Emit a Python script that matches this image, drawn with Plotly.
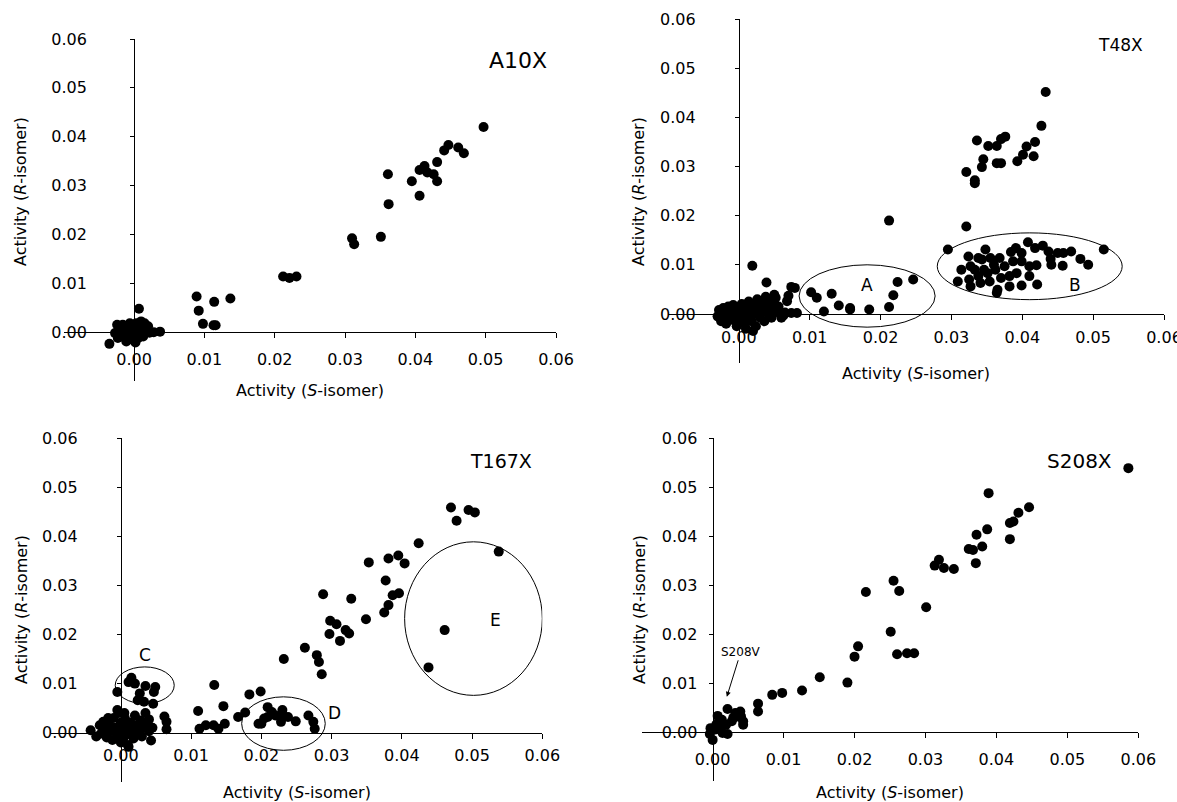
import plotly.graph_objects as go

W, H = 1177, 802

# ---------------- data ----------------
# Panel A10X
a10x_s = [0.0497, 0.0461, 0.0447, 0.0441, 0.0469, 0.0431, 0.0413, 0.0406, 0.0417, 0.0426,
          0.0431, 0.0395, 0.0406, 0.0361, 0.0362, 0.0310, 0.0313, 0.0351, 0.0212, 0.0221,
          0.0231, 0.0089, 0.0092, 0.0114, 0.0137, 0.0098, 0.0113, 0.0116, 0.0007, -0.0035,
          0.0028, 0.0037,
          -0.0024, -0.0016, -0.0006, 0.0003, 0.0010, 0.0015, 0.0020, -0.0027, -0.0020, -0.0013,
          -0.0006, 0.0001, 0.0008, 0.0015, 0.0022, -0.0023, -0.0016, -0.0009, -0.0001, 0.0006,
          0.0013, -0.0011, 0.0002, -0.0006, 0.0006, 0.0013]
a10x_r = [0.0420, 0.0378, 0.0383, 0.0372, 0.0366, 0.0348, 0.0340, 0.0332, 0.0327, 0.0323,
          0.0309, 0.0309, 0.0279, 0.0323, 0.0262, 0.0192, 0.0180, 0.0195, 0.0114, 0.0111,
          0.0114, 0.0073, 0.0044, 0.0062, 0.0069, 0.0017, 0.0014, 0.0014, 0.0048, -0.0024,
          0.0000, 0.0001,
          0.0015, 0.0015, 0.0018, 0.0018, 0.0022, 0.0018, 0.0012, -0.0002, 0.0001, 0.0005,
          0.0001, 0.0006, 0.0008, 0.0005, -0.0001, -0.0012, -0.0009, -0.0012, -0.0016, -0.0012,
          -0.0009, -0.0019, -0.0021, -0.0005, -0.0002, 0.0012]

# Panel T48X
t48x_s = [0.0433, 0.0427, 0.0418, 0.0406, 0.0416, 0.0401, 0.0393, 0.0376, 0.0370, 0.0364,
          0.0352, 0.0336, 0.0345, 0.0343, 0.0364, 0.0370, 0.0321, 0.0333, 0.0333, 0.0321,
          0.0212,
          0.0295, 0.0515, 0.0493, 0.0482, 0.0469, 0.0458, 0.0450, 0.0457, 0.0441, 0.0440,
          0.0437, 0.0429, 0.0418, 0.0408, 0.0399, 0.0391, 0.0384, 0.0387, 0.0399, 0.0410,
          0.0420, 0.0410, 0.0421, 0.0399, 0.0382, 0.0382, 0.0370, 0.0365, 0.0364, 0.0354,
          0.0346, 0.0348, 0.0355, 0.0368, 0.0360, 0.0338, 0.0324, 0.0327, 0.0314, 0.0333,
          0.0338, 0.0325, 0.0309, 0.0327, 0.0341, 0.0351, 0.0375, 0.0392, 0.0343, 0.0362,
          0.0102, 0.0110, 0.0131, 0.0120, 0.0141, 0.0157, 0.0157, 0.0184, 0.0212, 0.0218,
          0.0224, 0.0246,
          0.0019, 0.0039, 0.0074, 0.0079, 0.0070, 0.0068, 0.0063, 0.0074, 0.0082, 0.0050,
          0.0052,
          -0.0030, -0.0028, -0.0025, -0.0022, -0.0020, -0.0018, -0.0015, -0.0012, -0.0010, -0.0008,
          -0.0005, -0.0003, 0.0000, 0.0002, 0.0004, 0.0006, 0.0008, 0.0010, 0.0012, 0.0014,
          0.0016, 0.0018, 0.0020, 0.0022, 0.0024, 0.0026, 0.0028, 0.0030, 0.0032, 0.0034,
          0.0036, 0.0038, 0.0040, 0.0042, 0.0044, 0.0046, 0.0048, 0.0050, 0.0053, 0.0056,
          0.0060, 0.0065, -0.0010, 0.0005, 0.0015, 0.0025, 0.0035, 0.0045, 0.0010, 0.0020]
t48x_r = [0.0452, 0.0383, 0.0350, 0.0341, 0.0321, 0.0324, 0.0311, 0.0361, 0.0356, 0.0342,
          0.0342, 0.0353, 0.0315, 0.0299, 0.0307, 0.0307, 0.0289, 0.0272, 0.0266, 0.0178,
          0.0190,
          0.0131, 0.0131, 0.0100, 0.0112, 0.0127, 0.0124, 0.0124, 0.0098, 0.0100, 0.0112,
          0.0127, 0.0139, 0.0134, 0.0146, 0.0124, 0.0134, 0.0126, 0.0107, 0.0107, 0.0097,
          0.0099, 0.0077, 0.0060, 0.0058, 0.0056, 0.0077, 0.0073, 0.0049, 0.0043, 0.0066,
          0.0090, 0.0131, 0.0114, 0.0114, 0.0100, 0.0114, 0.0117, 0.0097, 0.0090, 0.0090,
          0.0077, 0.0070, 0.0066, 0.0056, 0.0063, 0.0083, 0.0097, 0.0083, 0.0111, 0.0090,
          0.0044, 0.0033, 0.0041, 0.0005, 0.0017, 0.0012, 0.0009, 0.0009, 0.0014, 0.0038,
          0.0065, 0.0070,
          0.0098, 0.0064, 0.0055, 0.0053, 0.0037, 0.0026, -0.0003, 0.0002, 0.0002, 0.0039,
          0.0033,
          -0.0005, 0.0008, -0.0015, 0.0012, -0.0002, -0.0020, 0.0015, 0.0003, -0.0012, 0.0018,
          -0.0005, -0.0025, 0.0010, -0.0015, 0.0020, 0.0000, -0.0020, 0.0015, -0.0008, 0.0025,
          0.0005, -0.0015, 0.0020, 0.0000, -0.0025, 0.0030, 0.0012, -0.0008, 0.0025, 0.0005,
          -0.0015, 0.0035, 0.0018, 0.0000, 0.0028, -0.0008, 0.0010, 0.0020, 0.0004, 0.0015,
          -0.0008, 0.0003, 0.0005, 0.0008, -0.0003, 0.0010, 0.0010, 0.0015, -0.0030, -0.0035]

# Panel T167X
t167x_s = [0.0470, 0.0478, 0.0495, 0.0504, 0.0538, 0.0424, 0.0395, 0.0404, 0.0381, 0.0353,
           0.0377, 0.0396, 0.0387, 0.0381, 0.0375, 0.0349, 0.0288, 0.0328, 0.0298, 0.0307,
           0.0297, 0.0312, 0.0320, 0.0325, 0.0461, 0.0438, 0.0262, 0.0279, 0.0282, 0.0286,
           0.0232, 0.0133, 0.0146, 0.0110, 0.0112, 0.0121, 0.0132, 0.0139, 0.0148, 0.0167,
           0.0177, 0.0183, 0.0199,
           0.0196, 0.0200, 0.0204, 0.0209, 0.0215, 0.0220, 0.0230, 0.0231, 0.0228, 0.0238,
           0.0249, 0.0267, 0.0274, 0.0276, 0.0209,
           0.0015, 0.0011, 0.0020, 0.0035, 0.0049, 0.0047, -0.0005, 0.0027, 0.0024, 0.0046,
           0.0033, 0.0062, 0.0065, 0.0065, 0.0040, 0.0043,
           -0.0043, -0.0035, -0.0030, -0.0028, -0.0025, -0.0022, -0.0020, -0.0017, -0.0015, -0.0012,
           -0.0010, -0.0008, -0.0005, -0.0003, 0.0000, 0.0000, 0.0002, 0.0004, 0.0006, 0.0008,
           0.0010, 0.0012, 0.0014, 0.0016, 0.0018, 0.0020, 0.0022, 0.0025, 0.0028, 0.0030,
           0.0032, 0.0035, 0.0038, 0.0040, 0.0045, -0.0005, 0.0011, -0.0018, 0.0005]
t167x_r = [0.0459, 0.0432, 0.0454, 0.0449, 0.0369, 0.0386, 0.0361, 0.0345, 0.0355, 0.0347,
           0.0310, 0.0284, 0.0280, 0.0260, 0.0245, 0.0231, 0.0282, 0.0273, 0.0228, 0.0221,
           0.0201, 0.0187, 0.0209, 0.0202, 0.0209, 0.0133, 0.0173, 0.0158, 0.0144, 0.0119,
           0.0150, 0.0097, 0.0054, 0.0044, 0.0008, 0.0015, 0.0015, 0.0008, 0.0018, 0.0032,
           0.0041, 0.0078, 0.0084,
           0.0018, 0.0018, 0.0029, 0.0052, 0.0042, 0.0035, 0.0046, 0.0035, 0.0022, 0.0032,
           0.0023, 0.0035, 0.0022, 0.0008, 0.0032,
           0.0112, 0.0103, 0.0100, 0.0095, 0.0093, 0.0083, 0.0083, 0.0080, 0.0066, 0.0059,
           0.0063, 0.0033, 0.0007, 0.0022, 0.0027, -0.0016,
           0.0005, -0.0008, 0.0015, -0.0002, 0.0022, 0.0008, -0.0010, 0.0018, 0.0003, -0.0015,
           0.0030, 0.0010, -0.0005, 0.0040, 0.0020, -0.0020, 0.0005, -0.0010, 0.0028, 0.0012,
           -0.0025, -0.0003, 0.0020, 0.0005, -0.0012, 0.0035, 0.0015, 0.0000, 0.0025, -0.0008,
           0.0010, 0.0040, 0.0018, 0.0003, 0.0010, 0.0046, -0.0029, 0.0030, 0.0040]

# Panel S208X
s208x_s = [0.0586, 0.0389, 0.0446, 0.0431, 0.0424, 0.0419, 0.0419, 0.0387, 0.0372, 0.0361,
           0.0367, 0.0380, 0.0371, 0.0313, 0.0319, 0.0326, 0.0340, 0.0301, 0.0255, 0.0263,
           0.0216, 0.0251, 0.0260, 0.0274, 0.0284, 0.0205, 0.0200, 0.0190, 0.0151, 0.0126,
           0.0098, 0.0084, 0.0064, 0.0064,
           0.0021, 0.0007, 0.0039, 0.0043, 0.0043, 0.0035, 0.0027, 0.0019, 0.0011, 0.0003,
           -0.0004, 0.0000, 0.0014, 0.0021, 0.0005, 0.0032, 0.0013, 0.0029, -0.0003, 0.0040]
s208x_r = [0.0539, 0.0488, 0.0459, 0.0448, 0.0430, 0.0427, 0.0394, 0.0414, 0.0403, 0.0374,
           0.0372, 0.0379, 0.0345, 0.0340, 0.0352, 0.0335, 0.0333, 0.0255, 0.0309, 0.0288,
           0.0286, 0.0205, 0.0159, 0.0161, 0.0161, 0.0175, 0.0154, 0.0101, 0.0112, 0.0085,
           0.0080, 0.0076, 0.0058, 0.0042,
           0.0047, 0.0033, 0.0042, 0.0022, 0.0015, 0.0032, 0.0022, 0.0015, 0.0008, 0.0005,
           -0.0004, -0.0016, -0.0002, -0.0004, 0.0015, 0.0039, 0.0025, 0.0029, 0.0008, 0.0032]

panel_names = ["A10X", "T48X", "T167X", "S208X"]
tick_vals = [0.00, 0.01, 0.02, 0.03, 0.04, 0.05, 0.06]
tick_text = ["0.00", "0.01", "0.02", "0.03", "0.04", "0.05", "0.06"]
x_title = "Activity (<i>S</i>-isomer)"
y_title = "Activity (<i>R</i>-isomer)"

# group outlines (label, panel index, x0, y0, x1, y1, label_x, label_y)
groups = [
    ("A", 1, 0.0085, -0.0027, 0.0277, 0.0100, 0.0181, 0.0059),
    ("B", 1, 0.0280, 0.0029, 0.0541, 0.0165, 0.0474, 0.0059),
    ("C", 2, -0.0008, 0.0059, 0.0076, 0.0134, 0.0034, 0.0158),
    ("D", 2, 0.0172, -0.0036, 0.0291, 0.0073, 0.0304, 0.0041),
    ("E", 2, 0.0404, 0.0076, 0.0600, 0.0389, 0.0534, 0.0229),
]

# ---------------- layout geometry (pixels) ----------------
panels_s = [a10x_s, t48x_s, t167x_s, s208x_s]
panels_r = [a10x_r, t48x_r, t167x_r, s208x_r]
frames = [
    dict(l=63.7, r=556.0, t=39.0, b=381.0, ystand=40, xstand=8,
         name=(518, 61, 22), xt=(310, 390), yt=(21, 192)),
    dict(l=668.0, r=1164.0, t=19.3, b=363.0, ystand=36, xstand=4,
         name=(1120, 45, 17), xt=(916, 374), yt=(639, 192)),
    dict(l=50.6, r=542.3, t=438.3, b=781.7, ystand=36, xstand=3,
         name=(501, 461, 19), xt=(297, 792), yt=(21, 610)),
    dict(l=641.7, r=1138.3, t=438.3, b=781.0, ystand=8, xstand=8,
         name=(1079, 461, 20), xt=(890, 792), yt=(639, 610)),
]
FONT = "DejaVu Sans"
XR = [-0.01, 0.06]
YR = [-0.01, 0.06]

fig = go.Figure()
layout = dict(width=W, height=H, margin=dict(l=0, r=0, t=0, b=0, pad=0, autoexpand=False),
              plot_bgcolor="white", paper_bgcolor="white", showlegend=False,
              font=dict(family=FONT, color="black"))
annotations = []
shapes = []

for i, f in enumerate(frames):
    k = "" if i == 0 else str(i + 1)
    xd = [f["l"] / W, f["r"] / W]
    yd = [1 - f["b"] / H, 1 - f["t"] / H]
    xpos = yd[0] + (yd[1] - yd[0]) * (0 - YR[0]) / (YR[1] - YR[0])
    ypos = xd[0] + (xd[1] - xd[0]) * (0 - XR[0]) / (XR[1] - XR[0])
    layout["xaxis" + k] = dict(domain=xd, range=XR, anchor="free", position=xpos,
                               automargin=False, ticklabeloverflow="allow",
                               showline=True, linecolor="black", linewidth=1,
                               ticks="outside", ticklen=5, tickwidth=1, tickcolor="black",
                               tickvals=tick_vals, ticktext=tick_text, showgrid=False,
                               zeroline=False, tickfont=dict(family=FONT, size=16),
                               ticklabelstandoff=f["xstand"], fixedrange=True)
    layout["yaxis" + k] = dict(domain=yd, range=YR, anchor="free", position=ypos,
                               automargin=False, ticklabeloverflow="allow",
                               showline=True, linecolor="black", linewidth=1,
                               ticks="outside", ticklen=4, tickwidth=1, tickcolor="black",
                               tickvals=tick_vals, ticktext=tick_text, showgrid=False,
                               zeroline=False, tickfont=dict(family=FONT, size=16),
                               ticklabelstandoff=f["ystand"], fixedrange=True)
    fig.add_trace(go.Scatter(x=panels_s[i], y=panels_r[i], mode="markers",
                             xaxis="x" + k, yaxis="y" + k,
                             marker=dict(size=10, color="black", line=dict(width=0)),
                             cliponaxis=False, hoverinfo="skip"))
    nx, ny, ns = f["name"]
    annotations.append(dict(text=panel_names[i], x=nx / W, y=1 - ny / H, xref="paper",
                            yref="paper", showarrow=False, xanchor="center",
                            yanchor="middle", font=dict(family=FONT, size=ns)))
    annotations.append(dict(text=x_title, x=f["xt"][0] / W, y=1 - f["xt"][1] / H,
                            xref="paper", yref="paper", showarrow=False,
                            xanchor="center", yanchor="middle",
                            font=dict(family=FONT, size=16)))
    annotations.append(dict(text=y_title, x=f["yt"][0] / W, y=1 - f["yt"][1] / H,
                            xref="paper", yref="paper", showarrow=False, textangle=-90,
                            xanchor="center", yanchor="middle",
                            font=dict(family=FONT, size=16)))

for lab, pi, x0, y0, x1, y1, lx, ly in groups:
    k = "" if pi == 0 else str(pi + 1)
    shapes.append(dict(type="circle", xref="x" + k, yref="y" + k, x0=x0, y0=y0,
                       x1=x1, y1=y1, line=dict(color="black", width=1)))
    annotations.append(dict(text=lab, x=lx, y=ly, xref="x" + k, yref="y" + k,
                            showarrow=False, font=dict(family=FONT, size=17)))

# S208V callout
annotations.append(dict(text="S208V", x=0.0020, y=0.0072, xref="x4", yref="y4",
                        showarrow=True, arrowhead=2, arrowsize=1, arrowwidth=1,
                        arrowcolor="black", ax=14, ay=-45,
                        font=dict(family=FONT, size=12)))

layout["annotations"] = annotations
layout["shapes"] = shapes
fig.update_layout(**layout)
fig.write_html("out.html", config={"displayModeBar": False},
               post_script="document.body.style.margin='0px';"
                           "document.body.style.padding='0px';"
                           "document.body.style.overflow='hidden';")
